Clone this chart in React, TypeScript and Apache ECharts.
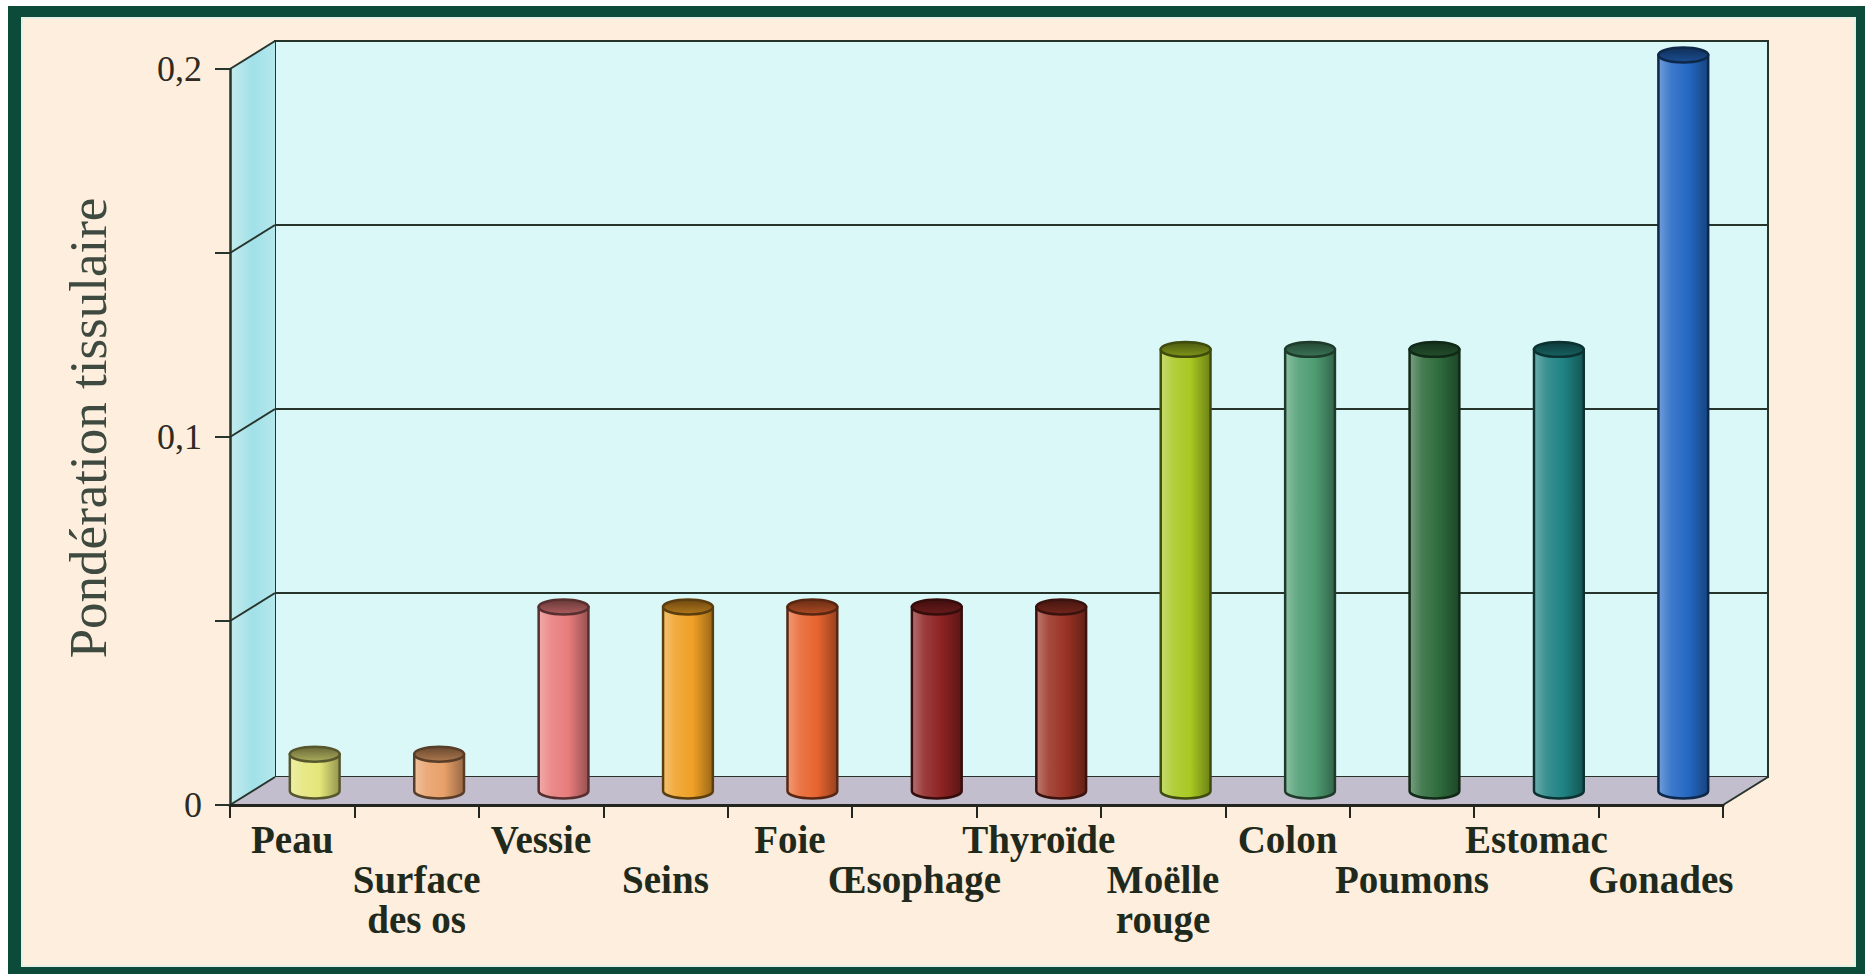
import React, { useEffect, useRef } from 'react';
import * as echarts from 'echarts';

// ---------- data ----------
const CATEGORIES = [
  'Peau',
  'Surface\ndes os',
  'Vessie',
  'Seins',
  'Foie',
  'Œsophage',
  'Thyroïde',
  'Moëlle\nrouge',
  'Colon',
  'Poumons',
  'Estomac',
  'Gonades',
];
const WEIGHTS = [0.01, 0.01, 0.05, 0.05, 0.05, 0.05, 0.05, 0.12, 0.12, 0.12, 0.12, 0.2];
const BAR_COLORS = [
  '#E4E67A',
  '#E8A068',
  '#E87C7C',
  '#EFA025',
  '#E8642E',
  '#8E2222',
  '#993224',
  '#A8C822',
  '#4E9C72',
  '#2E6B3C',
  '#1F8282',
  '#2468C4',
];
const Y_MIN = 0;
const Y_MAX = 0.2;
const Y_STEP = 0.05;
const Y_TICK_VALUES = [0, 0.1, 0.2];
const Y_TICK_LABELS = ['0', '0,1', '0,2'];
const Y_TITLE = 'Pondération tissulaire';

// ---------- layout / style ----------
const W = 1865;
const H = 974;
const FRONT = { left: 230, top: 69, width: 1493, height: 736 };
const DX = 45;
const DY = -28;
const LINE = '#26342C';

function mix(hex: string, target: string, t: number) {
  const a = parseInt(hex.slice(1), 16);
  const b = parseInt(target.slice(1), 16);
  const ch = (n: number, s: number) => (n >> s) & 255;
  const r = Math.round(ch(a, 16) * (1 - t) + ch(b, 16) * t);
  const g = Math.round(ch(a, 8) * (1 - t) + ch(b, 8) * t);
  const bl = Math.round(ch(a, 0) * (1 - t) + ch(b, 0) * t);
  return `rgb(${r},${g},${bl})`;
}

export default function App() {
  const ref = useRef<HTMLDivElement>(null);

  useEffect(() => {
    if (!ref.current) return;
    const chart = echarts.init(ref.current, undefined, { renderer: 'svg' });

    const gridLevels: number[] = [];
    for (let v = Y_MIN; v <= Y_MAX + 1e-9; v += Y_STEP) gridLevels.push(v);

    const option: any = {
      animation: false,
      backgroundColor: '#ffffff',
      graphic: [
        {
          type: 'rect',
          z: -10,
          silent: true,
          shape: { x: 8, y: 6, width: W - 8, height: H - 6 },
          style: { fill: '#0C4A3A' },
        },
        {
          type: 'rect',
          z: -9,
          silent: true,
          shape: { x: 22, y: 18, width: 1833, height: 948 },
          style: { fill: '#FDEEDD', stroke: '#E6F0E4', lineWidth: 2 },
        },
      ],
      grid: [
        { left: FRONT.left, top: FRONT.top, width: FRONT.width, height: FRONT.height, show: false },
        {
          left: FRONT.left + DX,
          top: FRONT.top + DY,
          width: FRONT.width,
          height: FRONT.height,
          show: true,
          backgroundColor: '#DAF8F8',
          borderColor: LINE,
          borderWidth: 2,
        },
      ],
      xAxis: [
        {
          type: 'category',
          gridIndex: 0,
          data: CATEGORIES,
          boundaryGap: true,
          z: 3,
          axisLine: { show: true, lineStyle: { color: '#22261E', width: 3 } },
          axisTick: { show: true, interval: 0, length: 13, lineStyle: { color: '#22261E', width: 2 } },
          axisLabel: {
            interval: 0,
            margin: 14,
            fontFamily: 'Liberation Serif',
            fontWeight: 'bold',
            fontSize: 39,
            lineHeight: 40,
            color: '#1F2A1C',
            formatter: (v: string, i: number) => (i % 2 === 1 ? '\n' + v : v),
          },
          splitLine: { show: false },
        },
        {
          type: 'category',
          gridIndex: 1,
          data: CATEGORIES,
          show: false,
        },
      ],
      yAxis: [
        {
          type: 'value',
          gridIndex: 0,
          min: Y_MIN,
          max: Y_MAX,
          interval: Y_STEP,
          z: 3,
          axisLine: { show: true, lineStyle: { color: LINE, width: 2.5 } },
          axisTick: { show: true, length: 15, lineStyle: { color: LINE, width: 2 } },
          axisLabel: {
            margin: 28,
            fontFamily: 'Liberation Serif',
            fontSize: 36,
            color: '#2E2A22',
            formatter: (v: number) => {
              const k = Y_TICK_VALUES.findIndex((t) => Math.abs(t - v) < 1e-9);
              return k >= 0 ? Y_TICK_LABELS[k] : '';
            },
          },
          splitLine: { show: false },
          name: Y_TITLE,
          nameLocation: 'middle',
          nameRotate: 90,
          nameGap: 116,
          nameTextStyle: {
            fontFamily: 'Liberation Serif',
            fontSize: 53,
            color: '#3E4A40',
            padding: [0, 0, 0, 18],
          },
        },
        {
          type: 'value',
          gridIndex: 1,
          min: Y_MIN,
          max: Y_MAX,
          interval: Y_STEP,
          axisLine: { show: false },
          axisTick: { show: false },
          axisLabel: { show: false },
          splitLine: { show: true, lineStyle: { color: LINE, width: 2 } },
        },
      ],
      series: [
        {
          type: 'custom',
          name: 'walls',
          xAxisIndex: 0,
          yAxisIndex: 0,
          z: 1,
          clip: false,
          silent: true,
          data: [[0, 0]],
          renderItem: (params: any, api: any) => {
            const cs = params.coordSys;
            const x0 = cs.x;
            const x1 = cs.x + cs.width;
            const yTop = cs.y;
            const yBot = cs.y + cs.height;
            const children: any[] = [
              {
                type: 'polygon',
                shape: {
                  points: [
                    [x0, yTop],
                    [x0 + DX, yTop + DY],
                    [x0 + DX, yBot + DY],
                    [x0, yBot],
                  ],
                },
                style: {
                  fill: new echarts.graphic.LinearGradient(0, 0, 1, 0, [
                    { offset: 0, color: '#C4ECEE' },
                    { offset: 0.5, color: '#A2E0E8' },
                    { offset: 1, color: '#B4E8EC' },
                  ]),
                },
              },
              {
                type: 'polygon',
                shape: {
                  points: [
                    [x0, yBot],
                    [x0 + DX, yBot + DY],
                    [x1 + DX, yBot + DY],
                    [x1, yBot],
                  ],
                },
                style: { fill: '#C3BECD' },
              },
              {
                type: 'line',
                shape: { x1: x1, y1: yBot, x2: x1 + DX, y2: yBot + DY },
                style: { stroke: LINE, lineWidth: 2 },
              },
            ];
            gridLevels.forEach((v) => {
              const y = api.coord([0, v])[1];
              children.push({
                type: 'line',
                shape: { x1: x0, y1: y, x2: x0 + DX, y2: y + DY },
                style: { stroke: LINE, lineWidth: 2 },
              });
            });
            return { type: 'group', children };
          },
        },
        {
          type: 'custom',
          name: 'bars',
          xAxisIndex: 0,
          yAxisIndex: 0,
          z: 5,
          clip: false,
          data: WEIGHTS.map((v, i) => [i, v]),
          encode: { x: 0, y: 1 },
          renderItem: (params: any, api: any) => {
            const i = api.value(0);
            const v = api.value(1);
            const top = api.coord([i, v]);
            const base = api.coord([i, 0]);
            const band = api.size([1, 0])[0];
            const rw = band * 0.2;
            const ry = rw * 0.3;
            const cx = top[0] + DX / 2;
            const ty = top[1] + DY / 2;
            const by = base[1] + DY / 2;
            const c = BAR_COLORS[i];
            const outline = mix(c, '#000000', 0.62);
            const body = {
              type: 'path',
              shape: {
                pathData: `M${cx - rw},${ty} L${cx - rw},${by} A${rw},${ry} 0 0 0 ${cx + rw},${by} L${cx + rw},${ty} Z`,
              },
              style: {
                fill: new echarts.graphic.LinearGradient(0, 0, 1, 0, [
                  { offset: 0, color: mix(c, '#ffffff', 0.35) },
                  { offset: 0.25, color: mix(c, '#ffffff', 0.12) },
                  { offset: 0.6, color: c },
                  { offset: 1, color: mix(c, '#000000', 0.35) },
                ]),
                stroke: outline,
                lineWidth: 2.5,
              },
            };
            const cap = {
              type: 'ellipse',
              shape: { cx, cy: ty, rx: rw, ry },
              style: {
                fill: new echarts.graphic.LinearGradient(0, 0, 0, 1, [
                  { offset: 0, color: mix(c, '#000000', 0.55) },
                  { offset: 1, color: mix(c, '#000000', 0.25) },
                ]),
                stroke: outline,
                lineWidth: 2.5,
              },
            };
            return { type: 'group', children: [body, cap] };
          },
        },
      ],
    };

    chart.setOption(option);
    return () => chart.dispose();
  }, []);

  return (
    <div
      ref={ref}
      style={{ position: 'absolute', left: 0, top: 0, width: W, height: H }}
    />
  );
}
